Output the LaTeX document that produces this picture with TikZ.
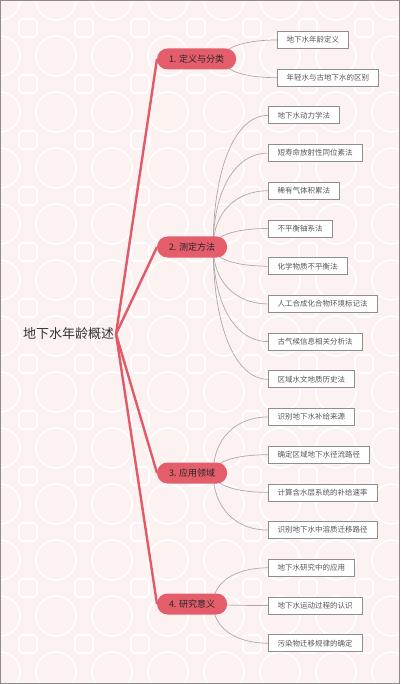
\documentclass[tikz,border=0pt]{standalone}
\usepackage{fontspec}
\setmainfont{Noto Sans CJK SC}
\usetikzlibrary{calc}

\definecolor{pillred}{HTML}{E45D6A}
\definecolor{linkred}{HTML}{E25A67}
\definecolor{leafgray}{HTML}{8E8E8E}
\definecolor{linkgray}{HTML}{ABABAB}
\definecolor{textgray}{HTML}{555555}
\definecolor{paperpink}{HTML}{FCF2F2}

\pgfdeclarelayer{paper}
\pgfdeclarelayer{links}
\pgfsetlayers{paper,links,main}

\begin{document}
\begin{tikzpicture}[x=1pt,y=-1pt,inner sep=0pt,outer sep=0pt,
    root/.style={font=\fontsize{13}{15}\selectfont, text=black!80, inner sep=2pt},
    branch/.style={fill=pillred, rounded corners=10.5pt, minimum height=21pt, inner xsep=12pt, anchor=west, font=\fontsize{9}{11}\selectfont, text=black!85},
    leaf/.style={draw=leafgray, fill=white, line width=0.8pt, minimum height=17pt, inner xsep=9.5pt, anchor=west, font=\fontsize{7.5}{9}\selectfont, text=textgray},
    trunk/.style={draw=linkred, line width=2.4pt},
    twig/.style={draw=linkgray, line width=0.7pt, to path={.. controls ($(\tikztostart)!0.6!(\tikztostart |- \tikztotarget)$) and ($(\tikztotarget)!0.6!(\tikztostart |- \tikztotarget)$) .. (\tikztotarget)}}]
    %
    \useasboundingbox (0,0) rectangle (400,684);
    \begin{pgfonlayer}{paper}
        \fill[paperpink] (0,0) rectangle (400,684);
        \begin{scope}
            \clip (0,0) rectangle (400,684);
            \foreach \i in {0,...,7}
                \foreach \j in {0,...,12}
                {
                    \draw[white, line width=1.6pt] (\i*56, \j*56) circle (20);
                    \draw[white, line width=1.6pt, rounded corners=4pt] (\i*56+28-9, \j*56+28-9) rectangle ++(18,18);
                }
        \end{scope}
        \draw[black!45, line width=1pt] (0.5,0.5) rectangle (399.5,683.5);
    \end{pgfonlayer}

    % centre
    \node[root] (groundwater_age) at (68.5,334) {地下水年龄概述};

    % main branches
    \node[branch] (sec_def)  at (157,59)  {1. 定义与分类};
    \node[branch] (sec_meas) at (157,247) {2. 测定方法};
    \node[branch] (sec_appl) at (157,473) {3. 应用领域};
    \node[branch] (sec_sig)  at (157,604) {4. 研究意义};

    \coordinate (sec_def_o)  at ([xshift=-14pt]sec_def.east);
    \coordinate (sec_meas_o) at ([xshift=-14pt]sec_meas.east);
    \coordinate (sec_appl_o) at ([xshift=-14pt]sec_appl.east);
    \coordinate (sec_sig_o)  at ([xshift=-14pt]sec_sig.east);

    % leaves
    \node[leaf] (def_a) at (277,40)    {地下水年龄定义};
    \node[leaf] (def_b) at (277,77.7)  {年轻水与古地下水的区别};

    \node[leaf] (meas_a) at (268,115.4) {地下水动力学法};
    \node[leaf] (meas_b) at (268,153.1) {短寿命放射性同位素法};
    \node[leaf] (meas_c) at (268,190.8) {稀有气体积累法};
    \node[leaf] (meas_d) at (268,228.5) {不平衡铀系法};
    \node[leaf] (meas_e) at (268,266.2) {化学物质不平衡法};
    \node[leaf] (meas_f) at (268,303.9) {人工合成化合物环境标记法};
    \node[leaf] (meas_g) at (268,341.6) {古气候信息相关分析法};
    \node[leaf] (meas_h) at (268,379.3) {区域水文地质历史法};

    \node[leaf] (appl_a) at (268,417)   {识别地下水补给来源};
    \node[leaf] (appl_b) at (268,454.7) {确定区域地下水径流路径};
    \node[leaf] (appl_c) at (268,492.4) {计算含水层系统的补给速率};
    \node[leaf] (appl_d) at (268,530.1) {识别地下水中溶质迁移路径};

    \node[leaf] (sig_a) at (268,567.8) {地下水研究中的应用};
    \node[leaf] (sig_b) at (268,605.5) {地下水运动过程的认识};
    \node[leaf] (sig_c) at (268,643.2) {污染物迁移规律的确定};

    % links
    \begin{pgfonlayer}{links}
        \foreach \s in {sec_def, sec_meas, sec_appl, sec_sig}
            \draw[trunk] (groundwater_age.east) -- (\s.west);
        \foreach \l in {def_a, def_b}
            \draw[twig] (sec_def_o) to (\l.west);
        \foreach \l in {meas_a, meas_b, meas_c, meas_d, meas_e, meas_f, meas_g, meas_h}
            \draw[twig] (sec_meas_o) to (\l.west);
        \foreach \l in {appl_a, appl_b, appl_c, appl_d}
            \draw[twig] (sec_appl_o) to (\l.west);
        \foreach \l in {sig_a, sig_b, sig_c}
            \draw[twig] (sec_sig_o) to (\l.west);
    \end{pgfonlayer}

\end{tikzpicture}
\end{document}
